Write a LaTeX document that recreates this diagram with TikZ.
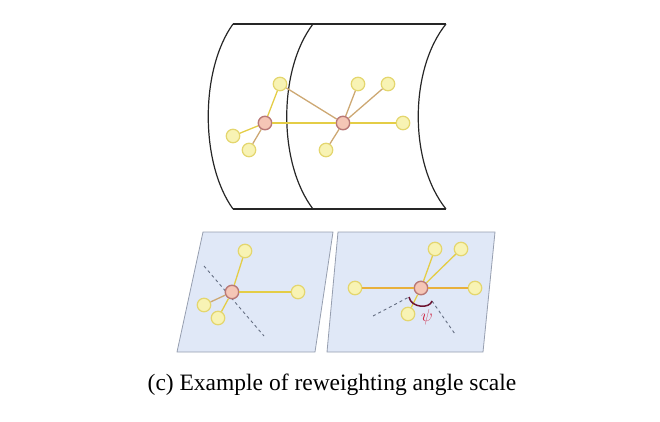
\documentclass[tikz,border=0pt]{standalone}
\usepackage{fontspec}
\setmainfont{Liberation Serif}
\definecolor{yfill}{RGB}{248,243,180}
\definecolor{yborder}{RGB}{228,214,110}
\definecolor{pfill}{RGB}{245,198,182}
\definecolor{pborder}{RGB}{185,120,118}
\definecolor{yedgec}{RGB}{228,205,70}
\definecolor{bedgec}{RGB}{205,168,115}
\definecolor{oedgec}{RGB}{232,176,60}
\definecolor{panelfill}{RGB}{224,232,247}
\definecolor{panelborder}{RGB}{150,158,175}
\definecolor{dashcol}{RGB}{100,110,130}
\definecolor{arccol}{RGB}{110,20,50}
\definecolor{psicol}{RGB}{205,40,70}
\begin{document}
\begin{tikzpicture}[x=1pt,y=-1pt,
  frame/.style={line width=1.2pt, black!85},
  ynode/.style={circle, minimum size=13.5pt, inner sep=0pt, fill=yfill, draw=yborder, line width=1.2pt},
  pnode/.style={circle, minimum size=13.5pt, inner sep=0pt, fill=pfill, draw=pborder, line width=1.4pt},
  yedge/.style={draw=yedgec, line width=1.3pt},
  bedge/.style={draw=bedgec, line width=1.3pt},
  oedge/.style={draw=oedgec, line width=1.4pt},
  panel/.style={fill=panelfill, draw=panelborder, line width=0.8pt},
  dashline/.style={draw=dashcol, dashed, dash pattern=on 3pt off 3pt, line width=0.9pt}]
\useasboundingbox (0,0) rectangle (660,421);
% ---------- top curved sheets ----------
\draw[frame] (233,24) -- (446,24);
\draw[frame] (233,209) -- (446,209);
\draw[frame] (233,24) .. controls (200,70) and (200,163) .. (233,209);
\draw[frame] (313,24) .. controls (278,70) and (278,163) .. (313,209);
\draw[frame] (446,24) .. controls (409,70) and (409,163) .. (446,209);
% nodes top
\node[pnode] (A) at (265,123) {};
\node[pnode] (B) at (343,123) {};
\node[ynode] (t1) at (280,84) {};
\node[ynode] (t2) at (233,136) {};
\node[ynode] (t3) at (249,150) {};
\node[ynode] (t4) at (358,84) {};
\node[ynode] (t5) at (388,84) {};
\node[ynode] (t6) at (403,123) {};
\node[ynode] (t7) at (326,150) {};
\draw[yedge] (A) -- (t1);
\draw[yedge] (A) -- (t2);
\draw[bedge] (A) -- (t3);
\draw[yedge] (A) -- (B);
\draw[bedge] (t1) -- (B);
\draw[bedge] (B) -- (t4);
\draw[bedge] (B) -- (t5);
\draw[yedge] (B) -- (t6);
\draw[bedge] (B) -- (t7);
% ---------- bottom left panel ----------
\draw[panel] (203,232) -- (333,232) -- (315,352) -- (177,352) -- cycle;
\coordinate (ld1) at (204,266);
\coordinate (ld2) at (264,336);
\draw[dashline] (ld1) -- (ld2);
\node[pnode] (L) at (232,292) {};
\node[ynode] (l1) at (245,251) {};
\node[ynode] (l2) at (298,292) {};
\node[ynode] (l3) at (204,305) {};
\node[ynode] (l4) at (218,318) {};
\draw[yedge] (L) -- (l1);
\draw[yedge] (L) -- (l2);
\draw[bedge] (L) -- (l3);
\draw[yedge] (L) -- (l4);
% ---------- bottom right panel ----------
\draw[panel] (338,232) -- (495,232) -- (483,352) -- (327,352) -- cycle;
\coordinate (rd1) at (373,316);
\coordinate (rd2) at (409,297);
\coordinate (rd3) at (432,301);
\coordinate (rd4) at (455,334);
\draw[dashline] (rd1) -- (rd2);
\draw[dashline] (rd3) -- (rd4);
\node[pnode] (R) at (421,288) {};
\node[ynode] (r1) at (355,288) {};
\node[ynode] (r2) at (475,288) {};
\node[ynode] (r3) at (435,249) {};
\node[ynode] (r4) at (461,249) {};
\node[ynode] (r5) at (408,314) {};
\draw[oedge] (R) -- (r1);
\draw[oedge] (R) -- (r2);
\draw[yedge] (R) -- (r3);
\draw[yedge] (R) -- (r4);
\draw[yedge] (R) -- (r5);
\draw[draw=arccol, line width=1.5pt] (rd2) .. controls (411,308) and (430,309) .. (rd3);
\node[text=psicol, inner sep=0pt] (psi) at (427,317) {\fontsize{18}{18}\selectfont$\psi$};
% ---------- caption ----------
\node[inner sep=0pt] (cap) at (332,385) {\fontsize{23.5}{28}\selectfont (c) Example of reweighting angle scale};
\end{tikzpicture}
\end{document}
